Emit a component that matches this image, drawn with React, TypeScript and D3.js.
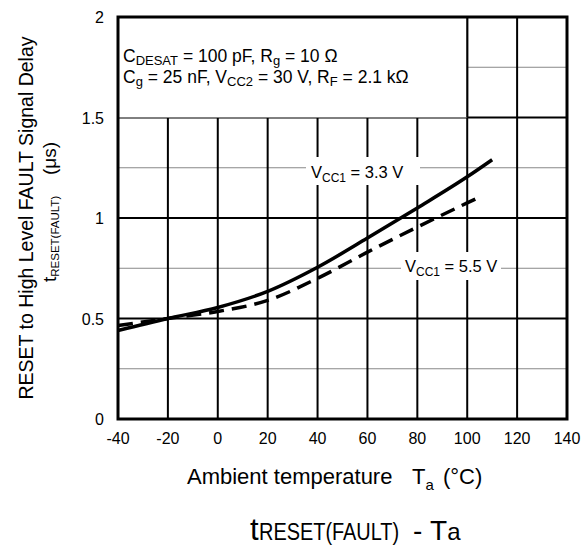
import React from "react";
import * as d3 from "d3";

const temps33 = [-40, -20, 0, 20, 40, 60, 80, 100, 110];
const vals33 = [0.44, 0.5, 0.555, 0.635, 0.755, 0.9, 1.05, 1.205, 1.29];
const temps55 = [-40, -20, 0, 20, 40, 60, 80, 100, 106];
const vals55 = [0.465, 0.5, 0.535, 0.59, 0.7, 0.83, 0.955, 1.075, 1.11];
const xTicks = [-40, -20, 0, 20, 40, 60, 80, 100, 120, 140];
const yTicks = [0, 0.5, 1, 1.5, 2];
const yMinor = [0.25, 0.75, 1.25, 1.75];

const W = 587, H = 550;
const L = 118, R = 567, T = 17, B = 419;
const FONT = "Liberation Sans, Arial, sans-serif";

export default function App() {
  const x = d3.scaleLinear().domain([-40, 140]).range([L, R]);
  const y = d3.scaleLinear().domain([0, 2]).range([B, T]);
  const line = d3.line<number>().curve(d3.curveMonotoneX);
  const p33 = line(temps33.map((t, i) => [x(t), y(vals33[i])]) as any);
  const p55 = line(temps55.map((t, i) => [x(t), y(vals55[i])]) as any);

  return (
    <svg width={W} height={H} style={{ position: "absolute", left: 0, top: 0, background: "#fff" }} fontFamily={FONT}>
      <rect x={0} y={0} width={W} height={H} fill="#fff" />
      {/* minor grid */}
      {yMinor.map((v) => (
        <line key={"m" + v} x1={L} x2={R} y1={y(v)} y2={y(v)} stroke="#888" strokeWidth={1} />
      ))}
      {/* major grid */}
      {yTicks.map((v) => (
        <line key={"y" + v} x1={L} x2={R} y1={y(v)} y2={y(v)} stroke="#000" strokeWidth={2} />
      ))}
      {xTicks.map((t) => (
        <line key={"x" + t} x1={x(t)} x2={x(t)} y1={T} y2={B} stroke="#000" strokeWidth={2} />
      ))}
      {/* white condition box */}
      <rect x={L} y={T} width={x(100) - L} height={y(1.5) - T} fill="#fff" />
      <line x1={x(100)} x2={x(100)} y1={T} y2={y(1.5)} stroke="#000" strokeWidth={2} />
      <text x={123} y={62} fontSize={17.5} fill="#000">
        C<tspan fontSize={13} dy={3}>DESAT</tspan>
        <tspan dy={-3}> = 100 pF, R</tspan>
        <tspan fontSize={13} dy={3}>g</tspan>
        <tspan dy={-3}> = 10 Ω</tspan>
      </text>
      <text x={123} y={83} fontSize={17.5} fill="#000">
        C<tspan fontSize={13} dy={3}>g</tspan>
        <tspan dy={-3}> = 25 nF, V</tspan>
        <tspan fontSize={13} dy={3}>CC2</tspan>
        <tspan dy={-3}> = 30 V, R</tspan>
        <tspan fontSize={13} dy={3}>F</tspan>
        <tspan dy={-3}> = 2.1 kΩ</tspan>
      </text>
      {/* label backgrounds */}
      <rect x={306} y={157} width={114} height={28} fill="#fff" />
      <rect x={401} y={252} width={100} height={28} fill="#fff" />
      {/* curves */}
      <path d={p33 || ""} fill="none" stroke="#000" strokeWidth={3.5} />
      <path d={p55 || ""} fill="none" stroke="#000" strokeWidth={3.5} strokeDasharray="15 8" />
      <text x={311} y={178} fontSize={16.5} fill="#000">
        V<tspan fontSize={12} dy={4}>CC1</tspan>
        <tspan dy={-4}> = 3.3 V</tspan>
      </text>
      <text x={405} y={272} fontSize={16.5} fill="#000">
        V<tspan fontSize={12} dy={4}>CC1</tspan>
        <tspan dy={-4}> = 5.5 V</tspan>
      </text>
      {/* frame */}
      <rect x={L} y={T} width={R - L} height={B - T} fill="none" stroke="#000" strokeWidth={3} />
      {/* tick labels */}
      {xTicks.map((t) => (
        <text key={"xt" + t} x={x(t)} y={B + 25} fontSize={16} textAnchor="middle" fill="#000">
          {t}
        </text>
      ))}
      {yTicks.map((v) => (
        <text key={"yt" + v} x={104} y={y(v) + 6} fontSize={16} textAnchor="end" fill="#000">
          {v}
        </text>
      ))}
      {/* axis labels */}
      <text transform={`translate(33, 218) rotate(-90)`} fontSize={19.5} textAnchor="middle" fill="#000">
        RESET to High Level FAULT Signal Delay
      </text>
      <text transform={`translate(56, 282) rotate(-90)`} fontSize={19} fill="#000">
        t<tspan fontSize={11.5} dy={3}>RESET(FAULT)</tspan>
      </text>
      <text transform={`translate(56, 175) rotate(-90)`} fontSize={19} fill="#000">
        (μs)
      </text>
      <text x={187} y={484} fontSize={22} fill="#000">
        {"Ambient temperature"}
      </text>
      <text x={412} y={484} fontSize={22} fill="#000">
        T<tspan fontSize={15} dy={6}>a</tspan>
      </text>
      <text x={443} y={484} fontSize={22} fill="#000">
        (°C)
      </text>
      <text x={250} y={540} fontSize={31} fill="#000">t</text>
      <text transform="translate(259, 540) scale(0.83, 1)" fontSize={24} fill="#000">
        RESET(FAULT)
      </text>
      <text x={413} y={540} fontSize={28} fill="#000">
        {"-\u00A0T"}<tspan fontSize={24}>a</tspan>
      </text>
    </svg>
  );
}
